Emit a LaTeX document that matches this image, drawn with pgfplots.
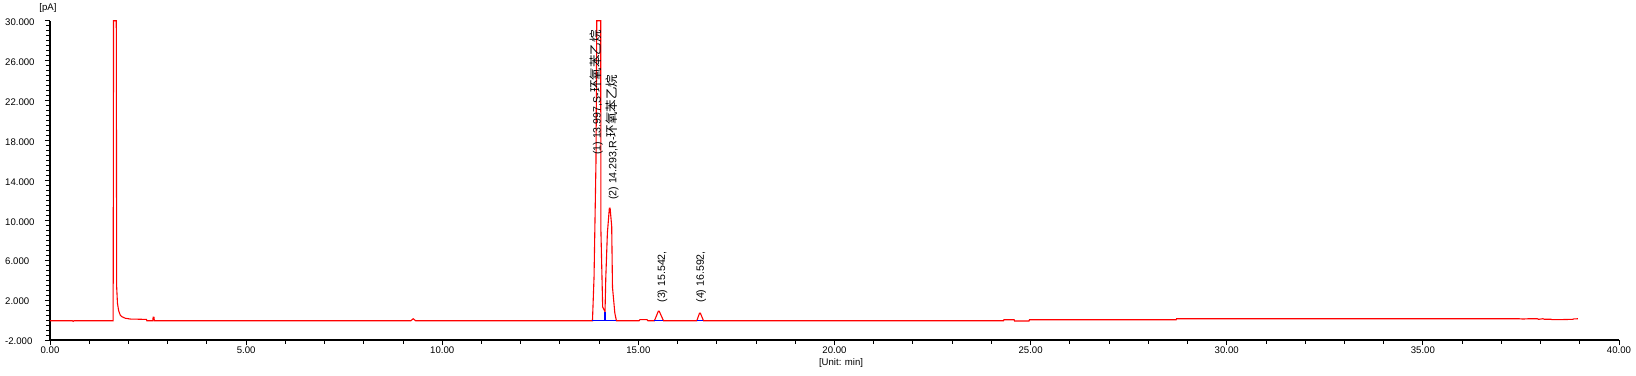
\documentclass[border=0pt]{standalone}
\usepackage{pgfplots}
\pgfplotsset{compat=1.18}
\usepackage{fontspec}
\setmainfont{Liberation Sans}
\newfontfamily\cjk{Noto Sans CJK SC}
\definecolor{cred}{RGB}{255,0,0}
\definecolor{cblue}{RGB}{0,0,255}
\begin{document}
\begin{tikzpicture}
\useasboundingbox (-50pt,-35pt) rectangle (1586pt,340pt);
\begin{axis}[
  at={(0,0)}, anchor=south west,
  width=1569pt, height=319.3pt, scale only axis,
  xmin=0, xmax=40, ymin=-2, ymax=30,
  axis lines=left,
  axis line style={-, line width=1.1pt, black},
  tick align=outside,
  major tick length=5pt, minor tick length=3.5pt,
  every tick/.style={black, line width=0.9pt},
  xtick={0,5,...,40}, minor x tick num=4,
  ytick={-2,2,...,30}, minor y tick num=7,
  tick label style={font=\fontsize{9.6}{10}\selectfont, black},
  /pgf/number format/assume math mode=true,
  x tick label style={/pgf/number format/fixed, /pgf/number format/fixed zerofill, /pgf/number format/precision=2},
  y tick label style={/pgf/number format/fixed, /pgf/number format/fixed zerofill, /pgf/number format/precision=3},
  yticklabel style={anchor=west, inner sep=0pt, xshift=-40pt, yshift=-1.5pt},
  xticklabel style={anchor=base, inner sep=0pt, yshift=-8pt},
  clip=false,
]
\addplot[cred, line width=1.1pt] coordinates {
(0,-0.066)(0.57,-0.066)(0.59,-0.13)(0.61,-0.066)
(1.61,-0.066)(1.62,30)(1.69,30)(1.70,3.3)(1.72,1.68)(1.75,0.94)(1.79,0.5)(1.83,0.34)(1.92,0.18)(2.05,0.1)(2.30,0.08)(2.46,0.06)(2.47,-0.066)(2.62,-0.066)(2.63,0.3)(2.65,0.3)(2.66,-0.066)
(9.20,-0.066)(9.26,0.13)(9.32,-0.066)
(13.83,-0.066)(13.87,4.3)(13.92,16)(13.94,30)(14.04,30)(14.045,9.0)(14.09,1.3)(14.15,0.84)(14.17,4.3)(14.21,8.7)(14.26,11.2)(14.28,11.2)(14.32,9.4)(14.34,3.3)(14.40,0.7)(14.44,-0.066)
(15.02,-0.066)(15.04,0.04)(15.22,0.04)(15.24,-0.066)
(15.41,-0.066)(15.51,0.9)(15.53,0.9)(15.64,-0.066)
(16.49,-0.066)(16.56,0.7)(16.58,0.7)(16.66,-0.066)
(24.31,-0.066)(24.32,0.03)(24.58,0.03)(24.59,-0.1)(24.96,-0.1)(24.97,0.03)(28.71,0.03)(28.72,0.13)(37.45,0.13)(37.55,0.1)(37.7,0.13)(37.92,0.13)(37.95,0.07)(38.06,0.13)(38.1,0.08)(38.26,0.08)(38.3,0.04)(38.47,0.04)(38.7,0.06)(38.81,0.06)(38.85,0.11)(38.95,0.13)
};
\addplot[cblue, line width=1.1pt] coordinates {(13.83,-0.066)(14.44,-0.066)};
\addplot[cblue, line width=1.1pt] coordinates {(14.15,-0.066)(14.15,0.84)};
\addplot[cblue, line width=1.1pt] coordinates {(15.41,-0.066)(15.64,-0.066)};
\addplot[cblue, line width=1.1pt] coordinates {(16.49,-0.066)(16.66,-0.066)};
\node[rotate=90, anchor=base west, inner sep=0pt, font=\fontsize{10.6}{12}\selectfont] at (axis cs:14.04,16.54) {(1) 13.997,S-{\cjk\fontsize{12.5}{13}\selectfont 环氧苯乙烷}};
\node[rotate=90, anchor=base west, inner sep=0pt, font=\fontsize{10.6}{12}\selectfont] at (axis cs:14.44,12.03) {(2) 14.293,R-{\cjk\fontsize{12.5}{13}\selectfont 环氧苯乙烷}};
\node[rotate=90, anchor=base west, inner sep=0pt, font=\fontsize{10.6}{12}\selectfont] at (axis cs:15.68,1.74) {(3) 15.542,};
\node[rotate=90, anchor=base west, inner sep=0pt, font=\fontsize{10.6}{12}\selectfont] at (axis cs:16.67,1.74) {(4) 16.592,};
\node[anchor=base, inner sep=0pt, xshift=-2pt, yshift=10pt, font=\fontsize{9.6}{10}\selectfont] at (rel axis cs:0,1) {[pA]};
\node[anchor=base, inner sep=0pt, yshift=-25pt, font=\fontsize{9.6}{10}\selectfont] at (rel axis cs:0.5042,0) {[Unit: min]};
\end{axis}
\end{tikzpicture}
\end{document}
